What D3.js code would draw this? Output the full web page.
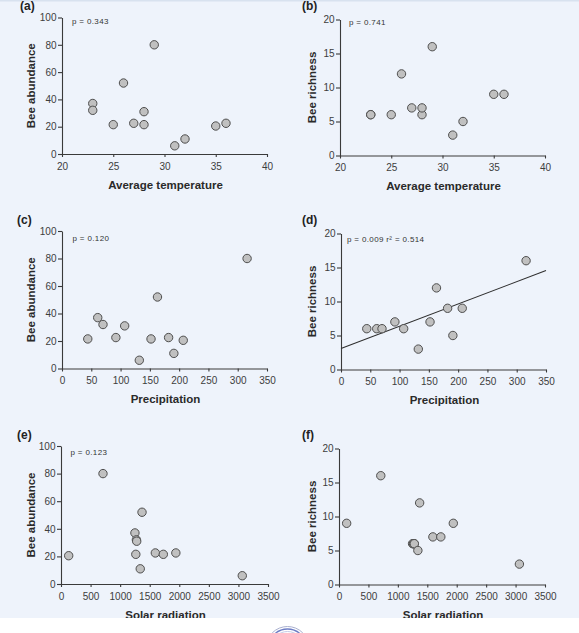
<!DOCTYPE html>
<html>
<head>
<meta charset="utf-8">
<script src="https://cdn.jsdelivr.net/npm/d3@7"></script>
<style>
  html, body { margin: 0; padding: 0; background: #fff; }
  svg { display: block; font-family: "Liberation Sans", Arial, sans-serif; }
</style>
</head>
<body>
<svg width="579" height="633"></svg>
<script>
// one entry per site (12 sites)
const temperature   = [23, 23, 25, 26, 27, 28, 28, 29, 31, 32, 35, 36];
const precipitation = [61, 70, 44, 163, 92, 107, 152, 316, 132, 191, 207, 182];
const solar         = [1250, 1275, 1265, 1370, 1595, 1280, 1730, 710, 3065, 1340, 130, 1942];
const abundance     = [37, 32, 21.5, 52, 22.5, 31, 21.5, 80, 6, 11, 20.5, 22.5];
const richness      = [6, 6, 6, 12, 7, 6, 7, 16, 3, 5, 9, 9];

const tempTicks      = [20, 25, 30, 35, 40];
const precipTicks    = [0, 50, 100, 150, 200, 250, 300, 350];
const solarTicks     = [0, 500, 1000, 1500, 2000, 2500, 3000, 3500];
const abundanceTicks = [0, 20, 40, 60, 80, 100];
const richnessTicks  = [0, 5, 10, 15, 20];

const panelLabels = ['(a)', '(b)', '(c)', '(d)', '(e)', '(f)'];
const statLabels  = ['p = 0.343', 'p = 0.741', 'p = 0.120', 'p = 0.009 r\u00b2 = 0.514', 'p = 0.123', ''];

// fitted line in (d)
const fitD = { intercept: 3.1, slope: 0.0327 };

const panels = [
  { x: temperature,   y: abundance, xt: tempTicks,   yt: abundanceTicks, xTitle: 'Average temperature', yTitle: 'Bee abundance' },
  { x: temperature,   y: richness,  xt: tempTicks,   yt: richnessTicks,  xTitle: 'Average temperature', yTitle: 'Bee richness' },
  { x: precipitation, y: abundance, xt: precipTicks, yt: abundanceTicks, xTitle: 'Precipitation',       yTitle: 'Bee abundance' },
  { x: precipitation, y: richness,  xt: precipTicks, yt: richnessTicks,  xTitle: 'Precipitation',       yTitle: 'Bee richness', fit: fitD },
  { x: solar,         y: abundance, xt: solarTicks,  yt: abundanceTicks, xTitle: 'Solar radiation',     yTitle: 'Bee abundance' },
  { x: solar,         y: richness,  xt: solarTicks,  yt: richnessTicks,  xTitle: 'Solar radiation',     yTitle: 'Bee richness' }
];

// plot boxes: left, right, bottom, top, plus label / title positions
const boxes = [
  { x0: 62,  x1: 267, y0: 154,   y1: 17.5,  lab: [20, 10],   stat: [72, 24],    yT: 35 },
  { x0: 340, x1: 545, y0: 155.5, y1: 19.5,  lab: [302, 10],  stat: [349, 24.5], yT: 316 },
  { x0: 62,  x1: 267, y0: 368.5, y1: 231,   lab: [17, 224],  stat: [72.5, 241], yT: 35 },
  { x0: 341, x1: 546, y0: 369.5, y1: 233.5, lab: [302, 224], stat: [347, 241.5], yT: 316 },
  { x0: 61,  x1: 268, y0: 584,   y1: 446,   lab: [17, 439],  stat: [70.5, 455], yT: 35 },
  { x0: 339, x1: 545, y0: 584.5, y1: 448.5, lab: [302, 439], stat: [0, 0],      yT: 316 }
];

const axisColor = '#3a3a3a',
      textColor = '#333';

const svg = d3.select('svg');

svg.append('rect').attr('width', 579).attr('height', 618).attr('fill', '#eef3fb');
svg.append('rect').attr('width', 579).attr('height', 1.5).attr('fill', '#d8e2ef');

const styleAxis = (sel) => {
  sel.attr('font-size', null).attr('font-family', null);
  sel.select('.domain').attr('stroke', axisColor).attr('stroke-width', 1.1);
  sel.selectAll('.tick line').attr('stroke', axisColor).attr('stroke-width', 1.1);
  sel.selectAll('.tick text').attr('fill', '#3d3d3d').style('font-size', '10px');
};

panels.forEach((p, i) => {
  const b = boxes[i];
  const x = d3.scaleLinear().domain(d3.extent(p.xt)).range([b.x0, b.x1]);
  const y = d3.scaleLinear().domain(d3.extent(p.yt)).range([b.y0, b.y1]);
  const g = svg.append('g');

  g.append('g')
    .attr('transform', `translate(0,${b.y0})`)
    .call(d3.axisBottom(x).tickValues(p.xt).tickFormat(d3.format('d'))
      .tickSizeInner(3).tickSizeOuter(0).tickPadding(5.5))
    .call(styleAxis);

  g.append('g')
    .attr('transform', `translate(${b.x0},0)`)
    .call(d3.axisLeft(y).tickValues(p.yt).tickFormat(d3.format('d'))
      .tickSizeInner(4).tickSizeOuter(0).tickPadding(1.5))
    .call(styleAxis);

  if (p.fit) {
    const [d0, d1] = x.domain();
    g.append('line')
      .attr('x1', x(d0)).attr('y1', y(p.fit.intercept + p.fit.slope * d0))
      .attr('x2', x(d1)).attr('y2', y(p.fit.intercept + p.fit.slope * d1))
      .attr('stroke', '#2e2e2e').attr('stroke-width', 1.1);
  }

  g.selectAll('circle.pt')
    .data(p.x.map((v, k) => [v, p.y[k]]))
    .enter().append('circle')
    .attr('class', 'pt')
    .attr('cx', d => x(d[0]))
    .attr('cy', d => y(d[1]))
    .attr('r', 4.2)
    .attr('fill', '#c0c0c0')
    .attr('stroke', '#4e4e4e')
    .attr('stroke-width', 1);

  g.append('text')
    .attr('x', b.lab[0]).attr('y', b.lab[1])
    .attr('font-size', '12px').attr('font-weight', 'bold').attr('fill', '#222')
    .text(panelLabels[i]);

  if (statLabels[i]) {
    g.append('text')
      .attr('x', b.stat[0]).attr('y', b.stat[1])
      .attr('font-size', '8px').attr('letter-spacing', '0.35px').attr('fill', textColor)
      .text(statLabels[i]);
  }

  g.append('text')
    .attr('x', (b.x0 + b.x1) / 2 + 1).attr('y', b.y0 + 34.5)
    .attr('text-anchor', 'middle')
    .attr('font-size', '11.5px').attr('font-weight', 'bold').attr('fill', '#2a2a2a')
    .text(p.xTitle);

  g.append('text')
    .attr('transform', `translate(${b.yT},${(b.y0 + b.y1) / 2}) rotate(-90)`)
    .attr('text-anchor', 'middle')
    .attr('font-size', '11.5px').attr('font-weight', 'bold').attr('fill', '#2a2a2a')
    .text(p.yTitle);
});

// white strip at the bottom with the edge of the journal logo
svg.append('rect').attr('y', 618).attr('width', 579).attr('height', 15).attr('fill', '#fff');
svg.append('circle').attr('cx', 287.5).attr('cy', 648).attr('r', 21.5)
  .attr('fill', 'none').attr('stroke', '#a9b0cf').attr('stroke-width', 1);
svg.append('circle').attr('cx', 287.5).attr('cy', 648).attr('r', 19)
  .attr('fill', 'none').attr('stroke', '#6f7fc6').attr('stroke-width', 1.3);
svg.append('circle').attr('cx', 287.5).attr('cy', 648).attr('r', 16.5)
  .attr('fill', 'none').attr('stroke', '#c3cae6').attr('stroke-width', 1);
</script>
</body>
</html>
